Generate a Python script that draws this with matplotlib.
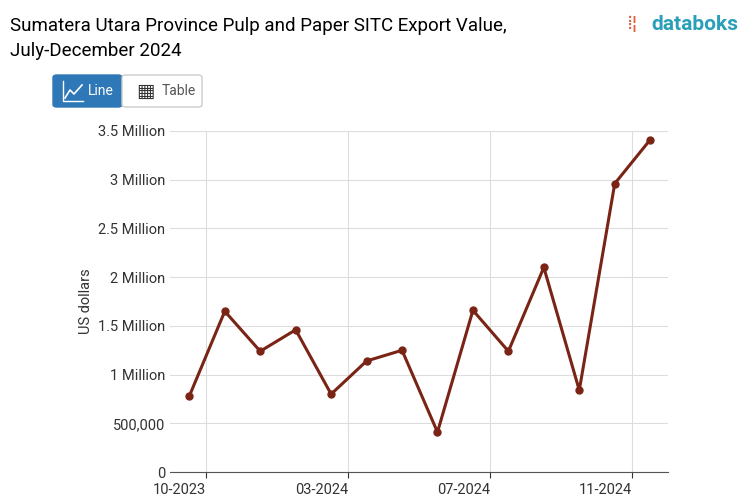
import matplotlib
matplotlib.use("Agg")
import matplotlib.pyplot as plt
from matplotlib.patches import FancyBboxPatch
from matplotlib.lines import Line2D
from matplotlib.ticker import FuncFormatter
from matplotlib.transforms import ScaledTranslation

values = [0.78, 1.65, 1.24, 1.46, 0.80, 1.14, 1.25, 0.41, 1.66, 1.24, 2.10, 0.84, 2.96, 3.41]
tick_pos = [0.48, 4.48, 8.48, 12.48]
tick_labels = ["10-2023", "03-2024", "07-2024", "11-2024"]

plt.rcParams['font.family'] = ['Roboto', 'DejaVu Sans']
fig = plt.figure(figsize=(7.53, 4.98), dpi=100)
ax = fig.add_axes([0.226, 0.052, 0.661, 0.685])
x = list(range(len(values)))
ax.plot(x, [v * 1e6 for v in values], color="#7a2416", lw=2.2, marker="o", ms=5, zorder=3)
ax.set_xlim(-0.54, 13.5)
ax.set_ylim(0, 3.5e6)
ax.set_yticks([i * 5e5 for i in range(8)])
def fmt(v, p):
    if v == 0: return "0"
    if v == 5e5: return "500,000"
    return f"{v/1e6:g} Million"
ax.yaxis.set_major_formatter(FuncFormatter(fmt))
ax.set_xticks(tick_pos)
ax.set_xticklabels(tick_labels)
for lab in ax.get_xticklabels():
    lab.set_ha("right")
    lab.set_transform(lab.get_transform() + ScaledTranslation(-4/100, 0, fig.dpi_scale_trans))
ax.grid(True, color="#dddddd", lw=0.8)
for s in ["top", "right", "left"]:
    ax.spines[s].set_visible(False)
ax.spines["bottom"].set_color("#555555")
ax.tick_params(axis="y", length=0, labelsize=10.5, colors="#333333")
ax.tick_params(axis="x", labelsize=10.5, colors="#333333", length=4)
ax.set_ylabel("US dollars", fontsize=10.5, color="#333333")

fig.text(0.013, 0.965, "Sumatera Utara Province Pulp and Paper SITC Export Value,\nJuly-December 2024",
         fontsize=13.5, va="top", ha="left", linespacing=1.5)
fig.text(0.865, 0.97, "databoks", fontsize=15, color="#2a9fb8", va="top", ha="left", fontweight="bold")
fig.text(0.832, 0.97, "⁞¦", fontsize=14, color="#e05a3a", va="top", ha="left")

fig.patches.append(FancyBboxPatch((53/753, 1-107/498), 69/753, 32/498, boxstyle="round,pad=0,rounding_size=0.005",
                                  transform=fig.transFigure, fc="#2e78b7", ec="#2e78b7"))
fig.patches.append(FancyBboxPatch((122/753, 1-107/498), 80/753, 32/498, boxstyle="round,pad=0,rounding_size=0.005",
                                  transform=fig.transFigure, fc="white", ec="#cccccc"))
fig.text(88/753, 1-91/498, "Line", color="white", fontsize=10, va="center")
fig.text(162/753, 1-91/498, "Table", color="#555555", fontsize=10, va="center")
ix = [63, 63, 83]
iy = [81, 101, 101]
fig.add_artist(Line2D([v/753 for v in ix], [1-v/498 for v in iy], color="white", lw=1, transform=fig.transFigure))
cx = [65, 70, 74, 82]
cy = [98, 90, 94, 85]
fig.add_artist(Line2D([v/753 for v in cx], [1-v/498 for v in cy], color="white", lw=1.2, transform=fig.transFigure))
fig.text(136/753, 1-91/498, "▦", color="#333333", fontsize=14, va="center", family=["DejaVu Sans"])
fig.savefig("out.png", dpi=100)
